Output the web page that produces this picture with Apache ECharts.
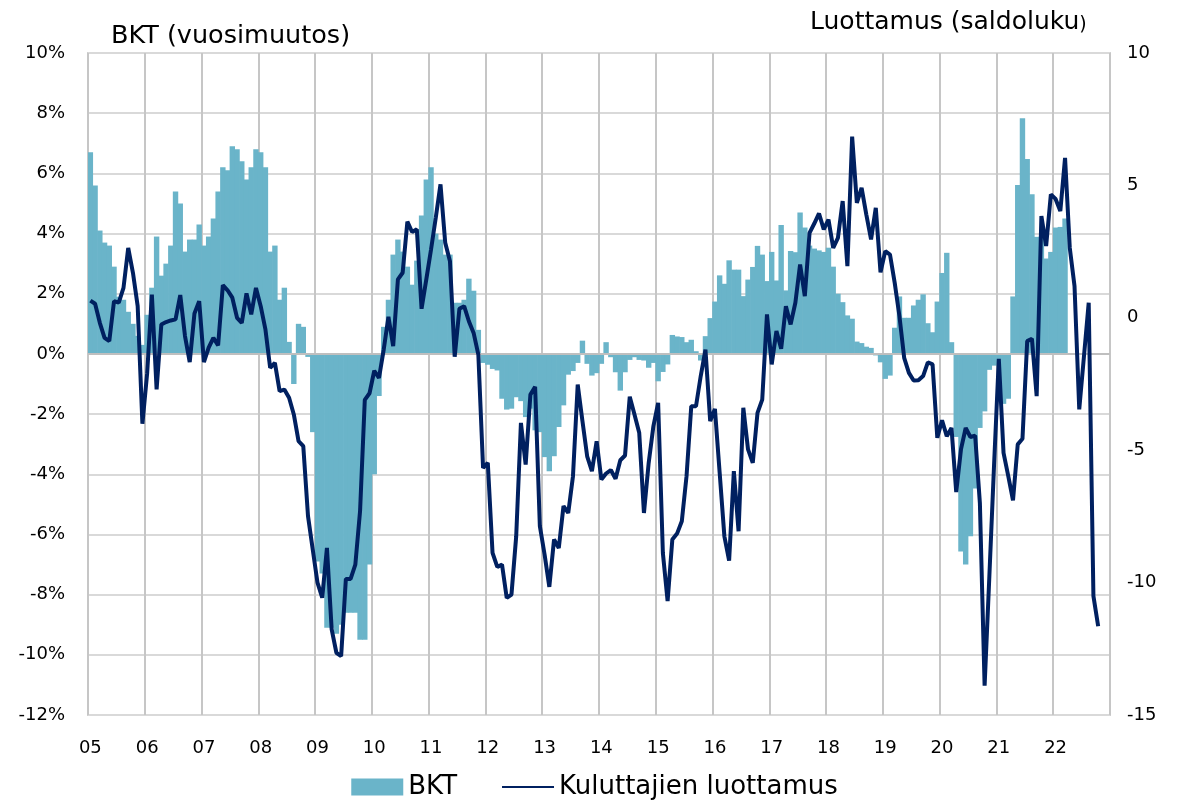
<!DOCTYPE html>
<html>
<head>
<meta charset="utf-8">
<script src="https://cdn.jsdelivr.net/npm/echarts@6/dist/echarts.min.js"></script>
<style>
    html, body { margin: 0; padding: 0; background: #fff; }
    #bktChart { width: 1189px; height: 801px; }
</style>
</head>
<body>
<div id="bktChart"></div>
<script>
// vuodet (x-akselin tunnukset)
const years = ['05', '06', '07', '08', '09', '10', '11', '12', '13', '14',
    '15', '16', '17', '18', '19', '20', '21', '22'];

// BKT, vuosimuutos % (kuukausittain 1/2005 alkaen)
const bkt = [
    6.7, 5.6, 4.1, 3.7, 3.6, 2.9, 1.9, 1.8, 1.4, 1.0, 0.6, 0.3,
    1.3, 2.2, 3.9, 2.6, 3.0, 3.6, 5.4, 5.0, 3.4, 3.8, 3.8, 4.3,
    3.6, 3.9, 4.5, 5.4, 6.2, 6.1, 6.9, 6.8, 6.4, 5.8, 6.2, 6.8,
    6.7, 6.2, 3.4, 3.6, 1.8, 2.2, 0.4, -1.0, 1.0, 0.9, -0.1, -2.6,
    -6.9, -7.3, -9.1, -9.1, -9.3, -9.0, -8.6, -8.6, -8.6, -9.5, -9.5, -7.0,
    -4.0, -1.4, 0.9, 1.8, 3.3, 3.8, 3.4, 2.9, 2.3, 3.1, 4.6, 5.8,
    6.2, 4.0, 3.8, 3.3, 3.3, 1.7, 1.7, 1.8, 2.5, 2.1, 0.8, -0.3,
    -0.36, -0.5, -0.55, -1.49, -1.85, -1.82, -1.44, -1.57, -2.1, -1.82, -2.54, -2.6,
    -3.43, -3.9, -3.4, -2.43, -1.71, -0.69, -0.57, -0.3, 0.44, -0.33, -0.72, -0.64,
    -0.33, 0.39, -0.11, -0.61, -1.22, -0.61, -0.2, -0.11, -0.2, -0.22, -0.46, -0.3,
    -0.91, -0.6, -0.35, 0.63, 0.58, 0.56, 0.39, 0.47, 0.09, -0.22, 0.59, 1.19,
    1.74, 2.61, 2.33, 3.11, 2.8, 2.8, 1.92, 2.47, 2.89, 3.59, 3.3, 2.42,
    3.39, 2.44, 4.28, 2.11, 3.42, 3.38, 4.7, 4.2, 3.6, 3.5, 3.44, 3.39,
    3.53, 2.9, 2.0, 1.72, 1.28, 1.17, 0.41, 0.36, 0.24, 0.2, -0.05, -0.28,
    -0.83, -0.72, 0.87, 1.91, 1.2, 1.2, 1.61, 1.8, 1.98, 1.02, 0.72, 1.74,
    2.69, 3.36, 0.39, -2.76, -6.57, -7.0, -6.06, -4.47, -2.46, -1.91, -0.53, -0.39,
    -0.33, -1.66, -1.49, 1.91, 5.61, 7.83, 6.48, 5.31, 3.89, 3.9, 3.17, 3.39,
    4.2, 4.22, 4.5
];

// Kuluttajien luottamus, saldoluku (kuukausittain 1/2005 alkaen)
const luottamus = [
    0.65, 0.53, -0.19, -0.76, -0.88, 0.63, 0.57, 1.13, 2.64, 1.7, 0.44, -4.0,
    -2.1, 0.88, -2.7, -0.25, -0.16, -0.1, -0.06, 0.86, -0.69, -1.67, 0.16, 0.63,
    -1.67, -1.13, -0.76, -1.04, 1.23, 1.04, 0.76, 0.0, -0.19, 0.92, 0.13, 1.13,
    0.44, -0.44, -1.89, -1.7, -2.77, -2.71, -3.02, -3.65, -4.66, -4.85, -7.49, -8.75,
    -10.0, -10.57, -8.69, -11.77, -12.65, -12.78, -9.86, -9.86, -9.32, -7.3, -3.1, -2.85,
    -2.0, -2.27, -1.2, 0.04, -1.07, 1.45, 1.7, 3.63, 3.24, 3.34, 0.34, 1.45,
    2.58, 3.78, 5.04, 2.83, 2.14, -1.47, 0.34, 0.44, -0.13, -0.57, -1.39, -5.67,
    -5.48, -8.88, -9.41, -9.32, -10.58, -10.45, -8.25, -3.97, -5.54, -2.9, -2.61, -7.87,
    -8.94, -10.16, -8.37, -8.69, -7.11, -7.37, -5.98, -2.52, -3.9, -5.23, -5.79, -4.66,
    -6.11, -5.88, -5.75, -6.08, -5.38, -5.2, -2.98, -3.65, -4.34, -7.37, -5.48, -4.09,
    -3.21, -8.88, -10.7, -8.37, -8.15, -7.68, -5.98, -3.34, -3.34, -2.2, -1.2, -3.9,
    -3.44, -5.85, -8.25, -9.17, -5.79, -8.06, -3.4, -4.97, -5.48, -3.59, -3.09, 0.13,
    -1.76, -0.5, -1.17, 0.44, -0.25, 0.57, 2.01, 0.82, 3.21, 3.56, 3.94, 3.34,
    3.71, 2.64, 3.02, 4.41, 1.95, 6.84, 4.34, 4.91, 3.9, 2.96, 4.15, 1.72,
    2.52, 2.39, 1.32, 0.06, -1.51, -2.08, -2.37, -2.36, -2.2, -1.68, -1.76, -4.53,
    -3.87, -4.47, -4.16, -6.58, -4.97, -4.16, -4.5, -4.45, -7.0, -13.89, -9.77, -5.54,
    -1.55, -5.1, -5.98, -6.89, -4.78, -4.57, -0.88, -0.79, -2.96, 3.84, 2.71, 4.66,
    4.49, 4.03, 6.04, 2.64, 1.2, -3.46, -1.45, 0.57, -10.51, -11.65
];

const fontFamily = '"DejaVu Sans", sans-serif';

/**
 * BKT ja kuluttajien luottamus -kuvio
 */
function initBktChart() {
    let bktChart = echarts.init(document.getElementById('bktChart'));

    // kuukaudet x-akselille
    let months = [];
    years.forEach(function (y) {
        for (let m = 1; m <= 12; m++) {
            months.push(y + '/' + m);
        }
    });

    let bktChartOption = {
        animation: false,
        textStyle: { fontFamily: fontFamily, color: '#000' },
        title: [
            {
                text: 'BKT (vuosimuutos)',
                left: 106,
                top: 18,
                textStyle: { fontFamily: fontFamily, fontSize: 25.5, fontWeight: 'normal', color: '#000' }
            },
            {
                text: '{a|Luottamus (saldoluku}{b|)}',
                left: 805,
                top: 5,
                textStyle: {
                    fontWeight: 'normal',
                    rich: {
                        a: { fontFamily: fontFamily, fontSize: 25, fontWeight: 'normal', color: '#000' },
                        b: { fontFamily: fontFamily, fontSize: 19, fontWeight: 'normal', color: '#000', padding: [6, 0, 0, 0] }
                    }
                }
            }
        ],
        legend: {
            left: 'center',
            top: 769,
            itemWidth: 52,
            itemHeight: 17,
            itemGap: 44,
            textStyle: { fontFamily: fontFamily, fontSize: 26, color: '#000' },
            data: [
                { name: 'BKT', icon: 'rect' },
                { name: 'Kuluttajien luottamus', itemStyle: { opacity: 0 } }
            ]
        },
        grid: {
            left: 88,
            right: 79,
            top: 53,
            bottom: 86,
            show: true,
            borderColor: '#cfcfcf',
            borderWidth: 2
        },
        xAxis: {
            type: 'category',
            data: months,
            boundaryGap: true,
            axisLine: { show: false },
            axisTick: { show: false },
            axisLabel: {
                interval: function (index) { return index % 12 === 0; },
                formatter: function (value) { return value.split('/')[0]; },
                fontSize: 18,
                color: '#000',
                margin: 24
            },
            splitLine: {
                show: true,
                interval: function (index) { return index % 12 === 0; },
                lineStyle: { color: '#c6c6c6', width: 2 }
            }
        },
        yAxis: [
            {
                type: 'value',
                min: -12,
                max: 10,
                interval: 2,
                axisLine: { show: false },
                axisTick: { show: false },
                axisLabel: { formatter: '{value}%', fontSize: 18, color: '#000', margin: 23 },
                splitLine: { lineStyle: { color: '#d9d9d9', width: 2 } }
            },
            {
                type: 'value',
                position: 'right',
                min: -15,
                max: 10,
                interval: 5,
                axisLine: { show: false },
                axisTick: { show: false },
                axisLabel: { fontSize: 18, color: '#000', margin: 17 },
                splitLine: { show: false }
            }
        ],
        series: [
            {
                name: 'BKT',
                type: 'bar',
                data: bkt,
                barWidth: 5.4,
                itemStyle: { color: '#6ab4c9' },
                markLine: {
                    silent: true,
                    symbol: ['none', 'none'],
                    label: { show: false },
                    lineStyle: { color: '#bfbfbf', width: 2, type: 'solid' },
                    data: [{ yAxis: 0 }]
                }
            },
            {
                name: 'Kuluttajien luottamus',
                type: 'line',
                yAxisIndex: 1,
                data: luottamus,
                symbol: 'none',
                z: 5,
                color: '#002060',
                lineStyle: { color: '#002060', width: 4 }
            }
        ]
    };

    bktChart.setOption(bktChartOption);
}

initBktChart();
</script>
</body>
</html>
